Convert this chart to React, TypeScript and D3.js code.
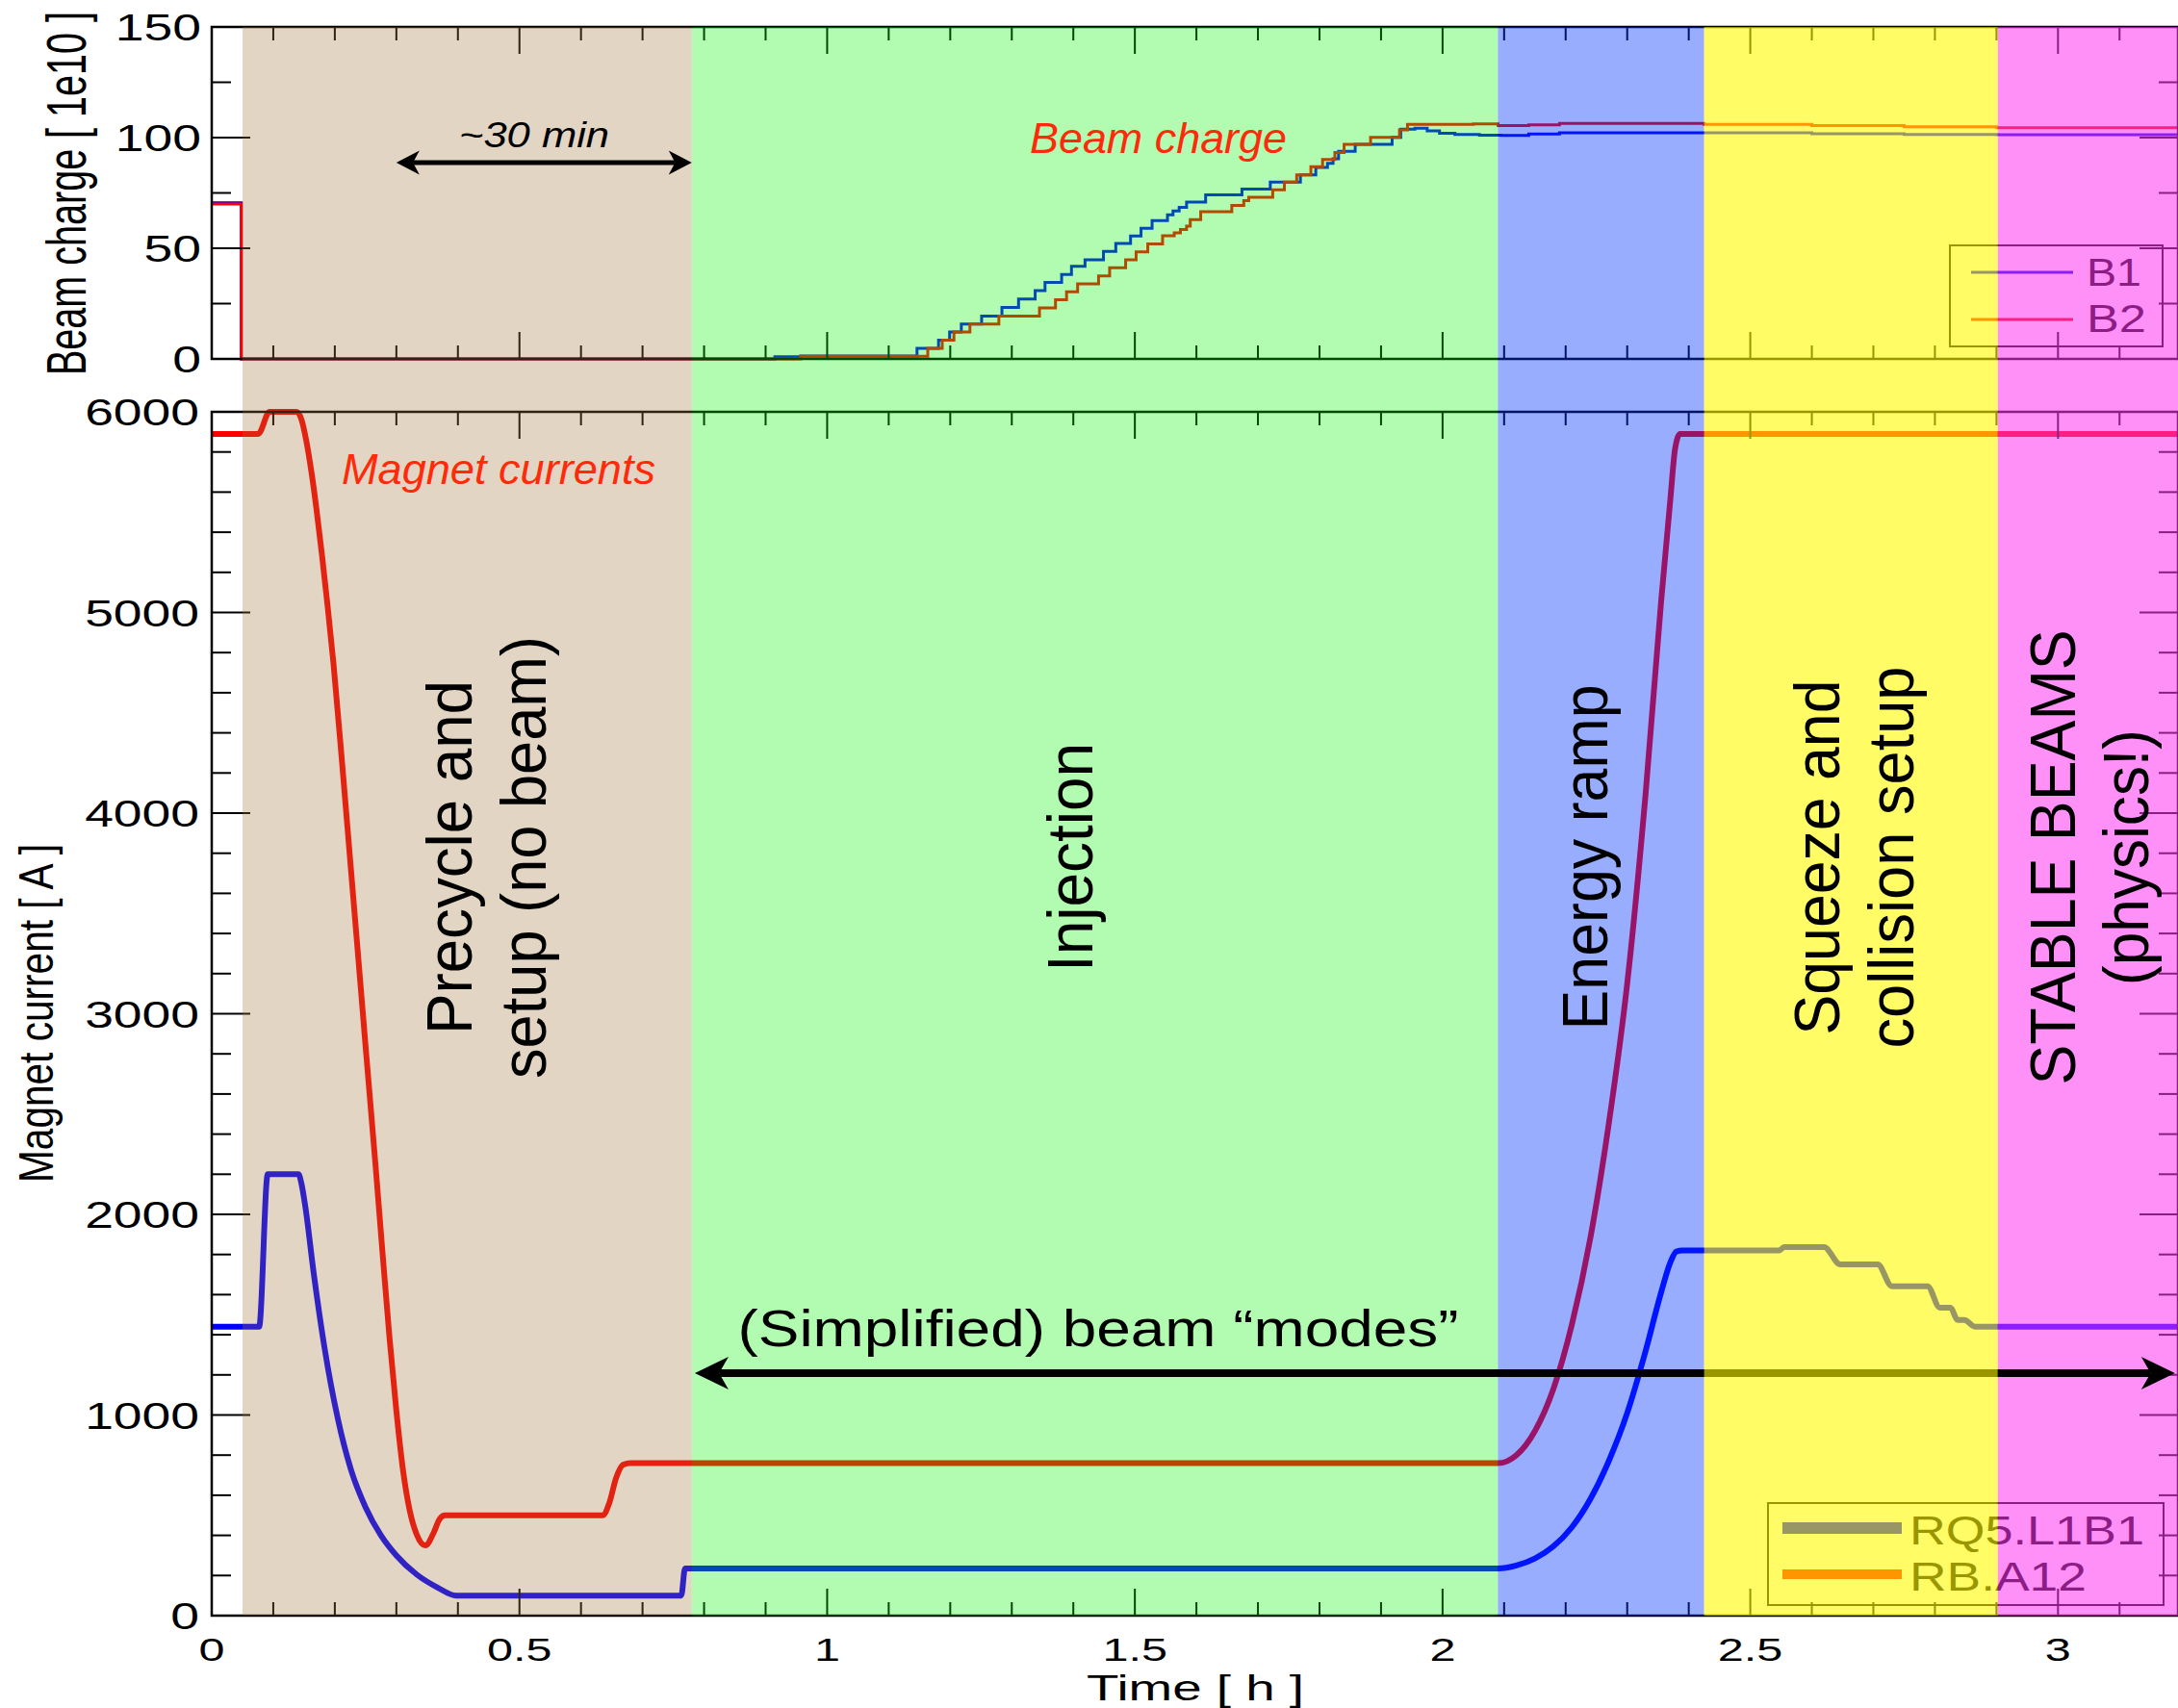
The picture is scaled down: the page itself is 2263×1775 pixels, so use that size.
import React from 'react';
import * as d3 from 'd3';

const WIDTH = 2263;
const HEIGHT = 1775;
const FONT = "'Liberation Sans', Arial, Helvetica, sans-serif";

// Beam charge [1e10] vs time [h], step points (value holds from t onward)
const beam1: [number, number][] = [
  [0, 70.5], [0.048, 0], [0.915, 1.0], [0.957, 1.3], [1.146, 4.8], [1.181, 8.5], [1.199, 12.2],
  [1.218, 15.8], [1.251, 19.4], [1.284, 23.3], [1.311, 27.1], [1.338, 30.9], [1.354, 34.6],
  [1.381, 38.1], [1.397, 41.9], [1.419, 44.8], [1.449, 48.6], [1.469, 52.2], [1.493, 55.5],
  [1.51, 59.0], [1.528, 62.5], [1.553, 65.1], [1.562, 66.8], [1.572, 68.5], [1.584, 70.9],
  [1.615, 74.1], [1.674, 76.7], [1.72, 79.9], [1.769, 83.2], [1.794, 86.5], [1.813, 88.4],
  [1.822, 90.4], [1.831, 93.8], [1.858, 97.0], [1.918, 100.1], [1.932, 103.8], [1.955, 104.2],
  [1.975, 103.0], [1.995, 102.0], [2.02, 101.4], [2.06, 101.1], [2.095, 101.0], [2.14, 101.6],
  [2.19, 102.2], [2.425, 102.2], [2.6, 101.7], [2.75, 101.4], [2.9, 101.3], [3.195, 101.3],
];
const beam2: [number, number][] = [
  [0, 70], [0.048, 0], [0.957, 1.2], [1.1635, 4.8], [1.187, 8.5], [1.206, 12.2], [1.232, 15.8],
  [1.279, 19.4], [1.345, 23.0], [1.371, 26.7], [1.389, 30.3], [1.407, 33.9], [1.441, 37.5],
  [1.459, 41.2], [1.485, 44.8], [1.502, 48.4], [1.521, 52.0], [1.545, 55.7], [1.564, 57.0],
  [1.574, 58.5], [1.584, 60.0], [1.59, 62.9], [1.607, 66.5], [1.6575, 69.4], [1.677, 71.5],
  [1.685, 73.0], [1.724, 76.4], [1.743, 79.9], [1.763, 83.2], [1.786, 86.8], [1.805, 90.1],
  [1.825, 93.3], [1.84, 97.0], [1.883, 100.1], [1.93, 103.5], [1.943, 106.0], [2.05, 106.2],
  [2.09, 105.4], [2.14, 105.8], [2.19, 106.4], [2.425, 106.0], [2.6, 105.4], [2.75, 104.9],
  [2.9, 104.5], [3.195, 104.3],
];

// Magnet currents [A] vs time [h]
const rq5: [number, number][] = [
  [0, 1440], [0.077, 1440], [0.091, 2200], [0.141, 2200], [0.146, 2150], [0.152, 2040],
  [0.166, 1700], [0.183, 1340], [0.205, 980], [0.227, 720], [0.25, 540], [0.275, 400],
  [0.3, 300], [0.333, 205], [0.367, 140], [0.397, 100], [0.763, 100], [0.769, 235], [2.09, 235],
  [2.12, 250], [2.15, 285], [2.18, 345], [2.21, 440], [2.24, 580], [2.27, 770], [2.3, 1010],
  [2.33, 1320], [2.355, 1610], [2.37, 1760], [2.38, 1815], [2.39, 1820], [2.547, 1820],
  [2.555, 1837], [2.62, 1837], [2.646, 1751], [2.707, 1751], [2.73, 1642], [2.788, 1642],
  [2.808, 1535], [2.825, 1535], [2.837, 1474], [2.848, 1474], [2.865, 1440], [3.195, 1440],
];
const rbA12: [number, number][] = [
  [0, 5890], [0.0755, 5890], [0.094, 6000], [0.138, 6000], [0.146, 5960], [0.154, 5850],
  [0.162, 5700], [0.17, 5520], [0.179, 5290], [0.188, 5040], [0.198, 4740], [0.214, 4170],
  [0.251, 2800], [0.266, 2250], [0.278, 1790], [0.289, 1380], [0.3, 1020], [0.311, 720],
  [0.322, 520], [0.333, 405], [0.347, 350], [0.361, 416], [0.37, 480], [0.379, 500],
  [0.635, 500], [0.646, 561], [0.657, 686], [0.669, 753], [0.68, 760], [2.09, 760],
  [2.12, 800], [2.15, 920], [2.18, 1130], [2.21, 1450], [2.24, 1880], [2.27, 2450],
  [2.3, 3150], [2.33, 4100], [2.355, 5050], [2.37, 5560], [2.378, 5820], [2.386, 5890],
  [3.195, 5890],
];

// beam modes (time in h)
const phaseStart = [0.05, 0.78, 2.09, 2.425, 2.902];
const phaseEnd = [0.78, 2.09, 2.425, 2.902, 3.195];
const phaseLabels = [
  ['Precycle and', 'setup (no beam)'],
  ['Injection'],
  ['Energy ramp'],
  ['Squeeze and', 'collision setup'],
  ['STABLE BEAMS', '(physics!)'],
];
const phaseColors = ['rgb(162,115,55)', 'rgb(0,245,0)', 'rgb(0,50,255)', 'rgb(255,250,0)', 'rgb(255,53,240)'];
const phaseAlpha = [0.3, 0.3, 0.4, 0.6, 0.55];
// label baselines (px) and lengths
const phaseLabelX = [[490, 567], [1135], [1670], [1911, 1988], [2156, 2232]];
const phaseLabelLen = [[368, 460], [238], [359], [369, 397], [473, 266]];

const timeTicks = [0, 0.5, 1, 1.5, 2, 2.5, 3];
const chargeTicks = [0, 50, 100, 150];
const currentTicks = [0, 1000, 2000, 3000, 4000, 5000, 6000];
const chargeSeries = ['B1', 'B2'];
const currentSeries = ['RQ5.L1B1', 'RB.A12'];
const seriesColors = ['#0000ff', '#ff0000'];

const annotRed = '#ff2a0a';

function Arrow({ x1, x2, y, w, head, half }: { x1: number; x2: number; y: number; w: number; head: number; half: number }) {
  const notch = head * 0.72;
  return (
    <g>
      <line x1={x1 + notch} x2={x2 - notch} y1={y} y2={y} stroke="#000" strokeWidth={w} />
      <path d={`M${x1},${y}L${x1 + head},${y - half}L${x1 + notch},${y}L${x1 + head},${y + half}Z`} fill="#000" />
      <path d={`M${x2},${y}L${x2 - head},${y - half}L${x2 - notch},${y}L${x2 - head},${y + half}Z`} fill="#000" />
    </g>
  );
}

export default function App() {
  const x = d3.scaleLinear().domain([0, 3.195]).range([220, 2263]);
  const yQ = d3.scaleLinear().domain([0, 150]).range([373, 28]);
  const yI = d3.scaleLinear().domain([0, 6000]).range([1679, 428]);

  const chargeLine = d3.line<[number, number]>()
    .x(d => x(d[0]))
    .y(d => yQ(d[1]))
    .curve(d3.curveStepAfter);
  const currentLine = d3.line<[number, number]>()
    .x(d => x(d[0]))
    .y(d => yI(d[1]))
    .curve(d3.curveMonotoneX);

  const [xl, xr] = x.range();
  const timeMinor = d3.range(1, 32).map(i => i / 10).filter(t => Math.round(t * 10) % 5 !== 0);
  const chargeMinor = [25, 75, 125];
  const currentMinor = d3.range(200, 6000, 200).filter(v => v % 1000 !== 0);

  // frame + inward ticks for one panel
  const panelFrame = (y: d3.ScaleLinear<number, number>, major: number[], minor: number[]) => {
    const [yb, yt] = y.range();
    const segs: JSX.Element[] = [];
    timeTicks.forEach((t, i) => {
      segs.push(<line key={`tb${i}`} x1={x(t)} x2={x(t)} y1={yb} y2={yb - 28} />);
      segs.push(<line key={`tt${i}`} x1={x(t)} x2={x(t)} y1={yt} y2={yt + 28} />);
    });
    timeMinor.forEach((t, i) => {
      segs.push(<line key={`mb${i}`} x1={x(t)} x2={x(t)} y1={yb} y2={yb - 14} />);
      segs.push(<line key={`mt${i}`} x1={x(t)} x2={x(t)} y1={yt} y2={yt + 14} />);
    });
    major.forEach((v, i) => {
      segs.push(<line key={`yl${i}`} x1={xl} x2={xl + 40} y1={y(v)} y2={y(v)} />);
      segs.push(<line key={`yr${i}`} x1={xr} x2={xr - 40} y1={y(v)} y2={y(v)} />);
    });
    minor.forEach((v, i) => {
      segs.push(<line key={`nl${i}`} x1={xl} x2={xl + 20} y1={y(v)} y2={y(v)} />);
      segs.push(<line key={`nr${i}`} x1={xr} x2={xr - 20} y1={y(v)} y2={y(v)} />);
    });
    return (
      <g stroke="#000" strokeWidth={2}>
        {segs}
        <rect x={xl} y={yt} width={xr - xl} height={yb - yt} fill="none" strokeWidth={2.5} />
      </g>
    );
  };

  const overlay = (i: number) => (
    <rect key={`ov${i}`} x={x(phaseStart[i])} y={yQ(150)} width={x(phaseEnd[i]) - x(phaseStart[i])}
      height={yI(0) - yQ(150)} fill={phaseColors[i]} fillOpacity={phaseAlpha[i]} />
  );

  const stretch = { lengthAdjust: 'spacingAndGlyphs' as const };

  return (
    <div style={{ position: 'absolute', left: 0, top: 0 }}>
      <svg width={WIDTH} height={HEIGHT} style={{ display: 'block' }} fontFamily={FONT}>
        <rect width={WIDTH} height={HEIGHT} fill="#fff" />

        {/* curves */}
        <path d={chargeLine(beam1) || ''} fill="none" stroke={seriesColors[0]} strokeWidth={3} />
        <path d={chargeLine(beam2) || ''} fill="none" stroke={seriesColors[1]} strokeWidth={3} />
        <path d={currentLine(rq5) || ''} fill="none" stroke={seriesColors[0]} strokeWidth={6} strokeLinejoin="round" />
        <path d={currentLine(rbA12) || ''} fill="none" stroke={seriesColors[1]} strokeWidth={6} strokeLinejoin="round" />

        {panelFrame(yQ, chargeTicks, chargeMinor)}
        {panelFrame(yI, currentTicks, currentMinor)}

        {/* legends */}
        <g>
          <rect x={2026} y={255} width={221} height={105} fill="none" stroke="#000" strokeWidth={2} />
          {chargeSeries.map((s, i) => (
            <g key={s}>
              <line x1={2048} x2={2154} y1={283 + i * 49} y2={283 + i * 49} stroke={seriesColors[i]} strokeWidth={3} />
              <text x={2168} y={297 + i * 48} fontSize={40} textLength={i === 0 ? 57 : 62} {...stretch}>{s}</text>
            </g>
          ))}
          <rect x={1837} y={1562} width={411} height={106} fill="none" stroke="#000" strokeWidth={2} />
          {currentSeries.map((s, i) => (
            <g key={s}>
              <line x1={1852} x2={1976} y1={1588 + i * 48} y2={1588 + i * 48} stroke={seriesColors[i]} strokeWidth={i === 0 ? 12 : 10} />
              <text x={1984} y={1605 + i * 48} fontSize={42} textLength={i === 0 ? 244 : 184} {...stretch}>{s}</text>
            </g>
          ))}
        </g>

        {/* shaded beam modes (tint over plot) */}
        {[0, 1, 2, 4].map(overlay)}
        <Arrow x1={x(0.785)} x2={x(3.19)} y={yI(1209)} w={8} head={35} half={17} />
        {overlay(3)}

        {/* tick labels */}
        <g fontSize={39}>
          {chargeTicks.map(v => (
            <text key={v} transform={`translate(209,${yQ(v) + 14}) scale(1.37,1)`} textAnchor="end">{v}</text>
          ))}
          {currentTicks.map(v => (
            <text key={v} transform={`translate(207,${yI(v) + 14}) scale(1.37,1)`} textAnchor="end">{v}</text>
          ))}
        </g>
        <g fontSize={33.5}>
          {timeTicks.map(t => (
            <text key={t} transform={`translate(${x(t)},1726) scale(1.45,1)`} textAnchor="middle">{String(t)}</text>
          ))}
        </g>

        {/* axis titles */}
        <text transform="translate(89,201) scale(1.45,1) rotate(-90)" textAnchor="middle" fontSize={39.5} textLength={378} {...stretch}>
          Beam charge [ 1e10 ]
        </text>
        <text transform="translate(55,1053) scale(1.26,1) rotate(-90)" textAnchor="middle" fontSize={40} textLength={352} {...stretch}>
          Magnet current [ A ]
        </text>
        <text x={1242} y={1767} textAnchor="middle" fontSize={37.5} textLength={226} {...stretch}>Time [ h ]</text>

        {/* phase labels */}
        {phaseLabels.map((lines, i) =>
          lines.map((s, j) => (
            <text key={`${i}-${j}`} transform={`translate(${phaseLabelX[i][j]},891) scale(1.07,1) rotate(-90)`}
              textAnchor="middle" fontSize={62} textLength={phaseLabelLen[i][j]} {...stretch}>
              {s}
            </text>
          ))
        )}

        {/* annotations */}
        <Arrow x1={x(0.3)} x2={x(0.78)} y={yQ(88.7)} w={5} head={24} half={12.5} />
        <text x={555} y={153} textAnchor="middle" fontStyle="italic" fontSize={36} textLength={156} {...stretch}>~30 min</text>
        <text x={1070} y={159} fontStyle="italic" fontSize={45} textLength={267} fill={annotRed} {...stretch}>Beam charge</text>
        <text x={355} y={503} fontStyle="italic" fontSize={44} textLength={326} fill={annotRed} {...stretch}>Magnet currents</text>
        <text x={1141} y={1399} textAnchor="middle" fontSize={54} textLength={749} {...stretch}>
          (Simplified) beam “modes”
        </text>
      </svg>
    </div>
  );
}
